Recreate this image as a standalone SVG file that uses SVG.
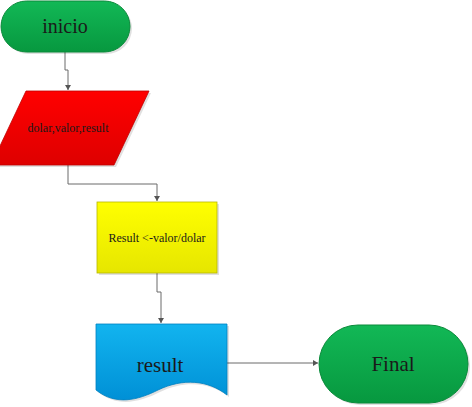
<svg xmlns="http://www.w3.org/2000/svg" width="472" height="407" viewBox="0 0 472 407">
<defs>
<linearGradient id="gGreen" x1="0" y1="0" x2="0" y2="1"><stop offset="0" stop-color="#12b856"/><stop offset="1" stop-color="#07983f"/></linearGradient>
<linearGradient id="gRed" x1="0" y1="0" x2="0" y2="1"><stop offset="0" stop-color="#ff0000"/><stop offset="1" stop-color="#de0000"/></linearGradient>
<linearGradient id="gYellow" x1="0" y1="0" x2="0" y2="1"><stop offset="0" stop-color="#ffff00"/><stop offset="1" stop-color="#e6e600"/></linearGradient>
<linearGradient id="gBlue" x1="0" y1="0" x2="0" y2="1"><stop offset="0" stop-color="#12b4ef"/><stop offset="1" stop-color="#0090d6"/></linearGradient>
<marker id="arr" markerWidth="6" markerHeight="6" refX="5" refY="3" orient="auto" markerUnits="userSpaceOnUse"><path d="M0,0 L5,3 L0,6 Z" fill="#555"/></marker>
</defs>
<style>
.conn{fill:none;stroke:#6a6a6a;stroke-width:1}
.lbl{font-family:"Liberation Serif","Times New Roman",serif;fill:#1a1a1a;text-anchor:middle}
.shadow{fill:#000;opacity:0.12}
</style>
<rect width="472" height="407" fill="#ffffff"/>
<g id="connectors">
<path class="conn" d="M65,52 V70 H68 V90" marker-end="url(#arr)"/>
<path class="conn" d="M68,165 V184 H157 V201" marker-end="url(#arr)"/>
<path class="conn" d="M157,273 V292 H161 V323" marker-end="url(#arr)"/>
<path class="conn" d="M227,363 H318" marker-end="url(#arr)"/>
</g>
<g id="inicio">
<rect class="shadow" x="3" y="3" width="129" height="51" rx="25.5"/>
<rect x="1" y="1" width="129" height="51" rx="25.5" fill="url(#gGreen)" stroke="#0a8a3a" stroke-width="1"/>
<text class="lbl" x="65" y="33" font-size="20">inicio</text>
</g>
<g id="entrada">
<polygon class="shadow" points="28,93 151,93 116,167 -7,167"/>
<polygon points="26,91 149,91 114,165 -9,165" fill="url(#gRed)" stroke="#c00000" stroke-width="0.8"/>
<text class="lbl" x="68" y="132" font-size="12">dolar,valor,result</text>
</g>
<g id="proceso">
<rect class="shadow" x="99" y="204" width="120" height="71"/>
<rect x="97" y="202" width="120" height="71" fill="url(#gYellow)" stroke="#b8b800" stroke-width="0.8"/>
<text class="lbl" x="157" y="242" font-size="12">Result &lt;-valor/dolar</text>
</g>
<g id="salida">
<path class="shadow" d="M98,326 H229 V397 C210,382 185,380 160,392 C140,402 118,408 98,392 Z"/>
<path d="M96,324 H227 V395 C208,380 183,378 158,390 C138,400 116,406 96,390 Z" fill="url(#gBlue)" stroke="#0080c0" stroke-width="0.8"/>
<text class="lbl" x="160" y="372" font-size="21">result</text>
</g>
<g id="final">
<rect class="shadow" x="321" y="327" width="149" height="78" rx="39"/>
<rect x="319" y="325" width="149" height="78" rx="39" fill="url(#gGreen)" stroke="#0a8a3a" stroke-width="1"/>
<text class="lbl" x="393" y="371" font-size="21">Final</text>
</g>
</svg>
